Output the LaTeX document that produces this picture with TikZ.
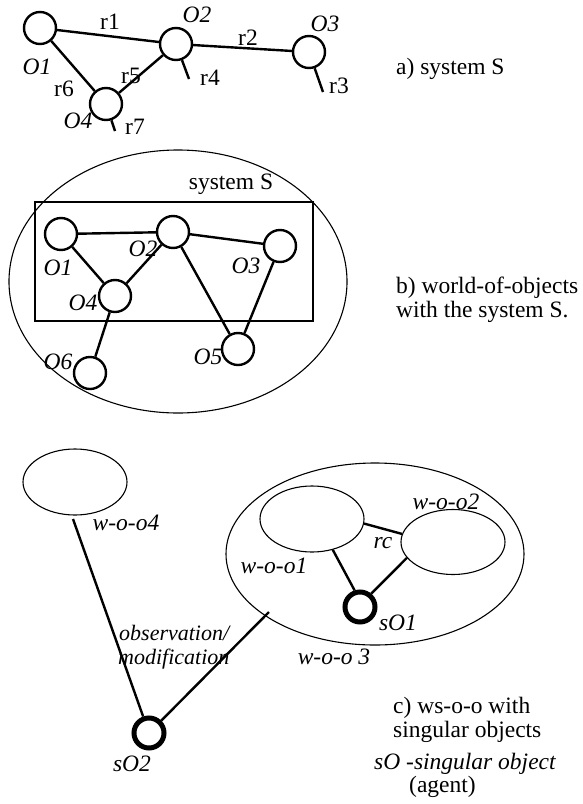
\documentclass[tikz,border=0pt]{standalone}
\usepackage{fontspec}
\setmainfont{Liberation Serif}
\usetikzlibrary{shapes.geometric}
\begin{document}
\begin{tikzpicture}[x=1pt,y=-1pt,
  obj/.style={circle,draw,line width=2.4pt,minimum size=32pt,inner sep=0pt},
  sobj/.style={circle,draw,line width=5pt,minimum size=30pt,inner sep=0pt},
  link/.style={line width=2.4pt},
  world/.style={ellipse,draw,line width=1.1pt,inner sep=0pt},
  lab/.style={inner sep=0pt,font=\fontsize{23.5}{25}\selectfont},
  ilab/.style={inner sep=0pt,font=\fontsize{23.5}{25}\selectfont\itshape},
  txt/.style={inner sep=0pt,anchor=base west,font=\fontsize{23.5}{25}\selectfont}]
\useasboundingbox (0,0) rectangle (583,804);
% ---------- a) ----------
\node[obj] (aO1) at (40,28) {};
\node[obj] (aO2) at (176,44) {};
\node[obj] (aO3) at (309,52) {};
\node[obj] (aO4) at (106,104) {};
\coordinate (ar4) at (189,79);
\coordinate (ar3) at (323,92);
\coordinate (ar7) at (115,131);
\draw[link] (aO1) -- (aO2);
\draw[link] (aO2) -- (aO3);
\draw[link] (aO1) -- (aO4);
\draw[link] (aO4) -- (aO2);
\draw[link] (aO2) -- (ar4);
\draw[link] (aO3) -- (ar3);
\draw[link] (aO4) -- (ar7);
\node[lab] (lr1) at (110,22) {r1};
\node[ilab] (lO2a) at (197,15) {O2};
\node[lab] (lr2) at (248,38) {r2};
\node[ilab] (lO3a) at (325,24) {O3};
\node[ilab] (lO1a) at (37,67) {O1};
\node[lab] (lr6) at (64,89) {r6};
\node[lab] (lr5) at (131,76) {r5};
\node[lab] (lr4) at (210,78) {r4};
\node[lab] (lr3) at (339,86) {r3};
\node[ilab] (lO4a) at (78,121) {O4};
\node[lab] (lr7) at (135,127) {r7};
\node[txt] (capa) at (396,74) {a) system S};
% ---------- b) ----------
\node[world,minimum width=338pt,minimum height=263pt] (bworld) at (178,281.5) {};
\node[draw,line width=1.1pt,minimum width=278pt,minimum height=119pt,inner sep=0pt] (bsys) at (174,261.5) {};
\node[lab] (lsysS) at (231,184) {system S};
\node[obj] (bO1) at (61,234) {};
\node[obj] (bO2) at (173,232) {};
\node[obj] (bO3) at (280,246) {};
\node[obj] (bO4) at (115,296) {};
\node[obj] (bO5) at (238,349) {};
\node[obj] (bO6) at (90,373) {};
\draw[link] (bO1) -- (bO2);
\draw[link] (bO2) -- (bO3);
\draw[link] (bO1) -- (bO4);
\draw[link] (bO2) -- (bO4);
\draw[link] (bO2) -- (bO5);
\draw[link] (bO3) -- (bO5);
\draw[link] (bO4) -- (bO6);
\node[ilab] (lO1b) at (58,268) {O1};
\node[ilab] (lO2b) at (143,249) {O2};
\node[ilab] (lO3b) at (246,266) {O3};
\node[ilab] (lO4b) at (83,303) {O4};
\node[ilab] (lO6b) at (58,362) {O6};
\node[ilab] (lO5b) at (208,357) {O5};
\node[txt] (capb1) at (396,293) {b) world-of-objects};
\node[txt] (capb2) at (396,317) {with the system S.};
% ---------- c) ----------
\node[world,minimum width=104pt,minimum height=66pt] (woo4) at (75,482) {};
\node[world,minimum width=298pt,minimum height=182pt] (woo3) at (375,554) {};
\node[world,minimum width=104pt,minimum height=66pt] (woo1) at (312,519) {};
\node[world,minimum width=104pt,minimum height=65pt] (woo2) at (453,542) {};
\node[sobj] (sO1) at (360,607) {};
\node[sobj] (sO2) at (149,733) {};
\coordinate (c4) at (73,519);
\coordinate (c3) at (269,612);
\draw[link] (c4) -- (sO2);
\draw[link] (sO2) -- (c3);
\draw[link] (woo1.-5) -- (woo2.171);
\draw[link] (woo1.-56) -- (sO1.108);
\draw[link] (woo2.199) -- (sO1.50);
\node[ilab] (lwoo4) at (126,523) {w-o-o4};
\node[ilab] (lwoo2) at (446,502) {w-o-o2};
\node[ilab] (lrc) at (383,543) {rc};
\node[ilab] (lwoo1) at (274,566) {w-o-o1};
\node[ilab] (lsO1) at (398,623) {sO1};
\node[ilab] (lwoo3) at (334,657) {w-o-o 3};
\node[ilab] (lsO2) at (132,764) {sO2};
\node[txt,font=\fontsize{22}{24}\selectfont\itshape] (obs1) at (119,640) {observation/};
\node[txt,font=\fontsize{22}{24}\selectfont\itshape] (obs2) at (118,664) {modification};
\node[txt] (capc1) at (393,713) {c) ws-o-o with};
\node[txt] (capc2) at (393,737) {singular objects};
\node[txt,font=\fontsize{23.5}{25}\selectfont\itshape] (capc3) at (374,769) {sO -singular object};
\node[txt] (capc4) at (409,792) {(agent)};
\end{tikzpicture}
\end{document}
